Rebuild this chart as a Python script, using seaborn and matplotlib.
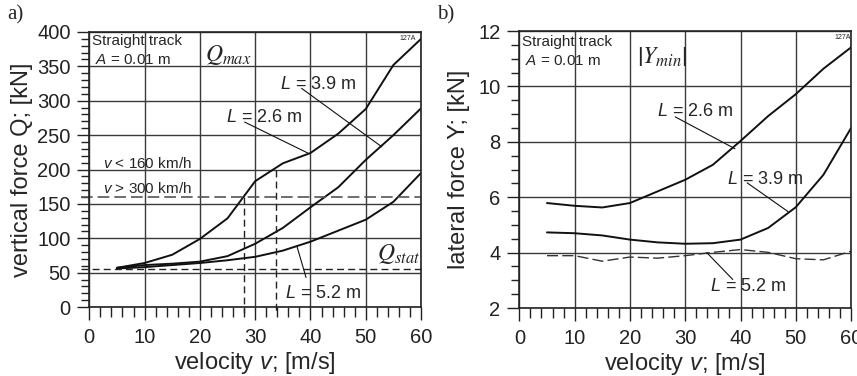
import matplotlib
matplotlib.use("Agg")
import matplotlib.pyplot as plt
from matplotlib.ticker import MultipleLocator
import seaborn as sns
import pandas as pd

# velocity grid (m/s)
velocity = [5, 10, 15, 20, 25, 30, 35, 40, 45, 50, 55, 60]

# a) vertical force Q_max [kN]
q_26 = [57, 64, 76, 99, 129, 183, 209, 224, 252, 288, 352, 390]
q_39 = [57, 61, 63, 66, 74, 92, 115, 145, 174, 214, 250, 289]
q_52 = [56, 58, 61, 64, 68, 73, 82, 95, 111, 127, 153, 195]

# b) lateral force |Y_min| [kN]
y_26 = [5.79, 5.69, 5.63, 5.79, 6.21, 6.63, 7.17, 8.03, 8.93, 9.72, 10.64, 11.41]
y_39 = [4.73, 4.70, 4.62, 4.47, 4.37, 4.32, 4.34, 4.47, 4.89, 5.64, 6.81, 8.50]
y_52 = [3.89, 3.89, 3.69, 3.84, 3.80, 3.89, 4.01, 4.11, 4.01, 3.78, 3.74, 4.05]

# reference levels
q_stat = 56
q_lim_160 = 200
q_lim_300 = 160
v_lim_300 = 28
v_lim_160 = 33.8

sns.set_style("ticks")
plt.rcParams["font.family"] = ["Liberation Sans", "DejaVu Sans"]
plt.rcParams["mathtext.fontset"] = "custom"
plt.rcParams["mathtext.rm"] = "Liberation Sans"
plt.rcParams["mathtext.it"] = "Liberation Sans:italic"

df_a = pd.DataFrame({"v": velocity * 3,
                     "val": q_26 + q_39 + q_52,
                     "L": ["2.6"] * 12 + ["3.9"] * 12 + ["5.2"] * 12})
df_b = pd.DataFrame({"v": velocity * 3,
                     "val": y_26 + y_39 + y_52,
                     "L": ["2.6"] * 12 + ["3.9"] * 12 + ["5.2"] * 12})

fig = plt.figure(figsize=(8.57, 3.76), dpi=100)
ax1 = fig.add_axes([0.1042, 0.1835, 0.3871, 0.7314])
ax2 = fig.add_axes([0.606, 0.1808, 0.3871, 0.7367])


def style_axis(ax, ymin, ymax, ymaj, ymin_step):
    ax.set_xlim(0, 60)
    ax.set_ylim(ymin, ymax)
    ax.xaxis.set_major_locator(MultipleLocator(10))
    ax.xaxis.set_minor_locator(MultipleLocator(2))
    ax.yaxis.set_major_locator(MultipleLocator(ymaj))
    ax.yaxis.set_minor_locator(MultipleLocator(ymin_step))
    ax.grid(True, which="major", color="#3a3a3a", lw=1.0)
    ax.tick_params(which="major", direction="out", length=9, width=1,
                   labelsize=14.5, colors="#222222")
    ax.tick_params(which="minor", direction="out", length=6, width=1, colors="#222222")
    ax.tick_params(axis="x", which="minor", length=7)
    ax.tick_params(axis="x", which="major", pad=6)
    ax.tick_params(axis="y", which="major", pad=4.5)
    for s in ax.spines.values():
        s.set_visible(True)
        s.set_color("#222222")
        s.set_linewidth(1.2)
    ax.set_axisbelow(True)


# ---- panel a ----
style_axis(ax1, 0, 400, 50, 10)
for L in ["2.6", "3.9", "5.2"]:
    sns.lineplot(data=df_a[df_a.L == L], x="v", y="val", ax=ax1,
                 color="#111111", lw=1.4, legend=False)

dash = (0, (5, 3))
ax1.plot([-1.5, 60], [q_stat, q_stat], color="#222222", lw=1, ls=dash, clip_on=False)
ax1.plot([-1.5, 60], [q_lim_300, q_lim_300], color="#555555", lw=1.2, ls=(0, (7, 3)), clip_on=False)
ax1.plot([v_lim_300, v_lim_300], [q_lim_300, -9], color="#222222", lw=1, ls=dash, clip_on=False)
ax1.plot([v_lim_160, v_lim_160], [q_lim_160, -9], color="#222222", lw=1, ls=dash, clip_on=False)

ax1.set_xlabel("velocity $v$; [m/s]", fontsize=17)
ax1.set_ylabel("vertical force Q; [kN]", fontsize=17)
ax1.xaxis.set_label_coords(0.5, -0.155)
ax1.yaxis.set_label_coords(-0.17, 0.5)

ax1.text(0.008, 0.967, "Straight track", transform=ax1.transAxes, fontsize=11, va="center")
ax1.text(0.017, 0.898, "$A$ = 0.01 m", transform=ax1.transAxes, fontsize=11, va="center")
ax1.text(0.35, 0.915, "$Q_{max}$", transform=ax1.transAxes, fontsize=17,
         va="center", math_fontfamily="stix")
ax1.text(59.8, 60, "$Q_{stat}$", fontsize=17, ha="right", va="bottom", math_fontfamily="stix")
ax1.text(0.985, 0.99, "127A", transform=ax1.transAxes, fontsize=5, ha="right", va="top")
ax1.text(2.5, 209, "$v$ < 160 km/h", fontsize=11, va="center")
ax1.text(2.5, 173, "$v$ > 300 km/h", fontsize=11, va="center")

ax1.text(34.5, 324, "$L$ = 3.9 m", fontsize=13, va="center")
ax1.plot([38.4, 52.9], [318, 233], color="#111111", lw=0.8)
ax1.text(24.7, 275, "$L$ = 2.6 m", fontsize=13, va="center")
ax1.plot([28.1, 39.5], [269, 224], color="#111111", lw=0.8)
ax1.text(35.4, 20, "$L$ = 5.2 m", fontsize=13, va="center")
ax1.plot([39.2, 37.6], [43, 87], color="#111111", lw=0.8)

fig.text(0.008, 0.96, "a)", fontsize=15, family="Liberation Serif", va="center")

# ---- panel b ----
style_axis(ax2, 2, 12, 2, 0.5)
sns.lineplot(data=df_b[df_b.L == "2.6"], x="v", y="val", ax=ax2,
             color="#111111", lw=1.4, legend=False)
sns.lineplot(data=df_b[df_b.L == "3.9"], x="v", y="val", ax=ax2,
             color="#111111", lw=1.4, legend=False)
sns.lineplot(data=df_b[df_b.L == "5.2"], x="v", y="val", ax=ax2,
             color="#333333", lw=1.0, ls=(0, (8, 3)), legend=False)

ax2.set_xlabel("velocity $v$; [m/s]", fontsize=17)
ax2.set_ylabel("lateral force Y; [kN]", fontsize=17)
ax2.xaxis.set_label_coords(0.5, -0.155)
ax2.yaxis.set_label_coords(-0.149, 0.5)

ax2.text(0.008, 0.962, "Straight track", transform=ax2.transAxes, fontsize=11, va="center")
ax2.text(0.017, 0.893, "$A$ = 0.01 m", transform=ax2.transAxes, fontsize=11, va="center")
ax2.text(0.355, 0.905, r"$\left|Y_{min}\right|$", transform=ax2.transAxes, fontsize=17,
         va="center", math_fontfamily="stix")
ax2.text(1.0, 0.99, "127A", transform=ax2.transAxes, fontsize=5, ha="right", va="top")

ax2.text(24.9, 9.08, "$L$ = 2.6 m", fontsize=13, va="center")
ax2.plot([28.2, 39.0], [8.9, 7.75], color="#111111", lw=0.8)
ax2.text(37.6, 6.63, "$L$ = 3.9 m", fontsize=13, va="center")
ax2.plot([41.2, 48.6], [6.52, 5.48], color="#111111", lw=0.8)
ax2.text(34.5, 2.77, "$L$ = 5.2 m", fontsize=13, va="center")
ax2.plot([38.6, 33.9], [3.03, 4.0], color="#111111", lw=0.8)

fig.text(0.51, 0.96, "b)", fontsize=15, family="Liberation Serif", va="center")

fig.savefig("out.png", dpi=100)
